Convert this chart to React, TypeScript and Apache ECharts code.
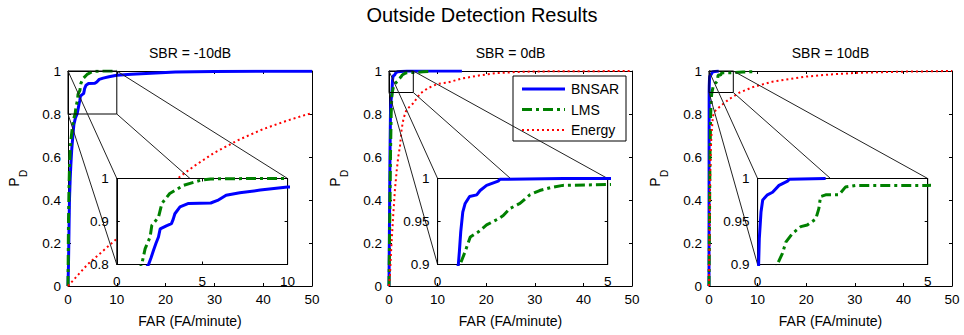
import React, { useEffect, useRef } from "react";
import * as echarts from "echarts";

// ---------- data ----------
const panelTitles = ["SBR = -10dB", "SBR = 0dB", "SBR = 10dB"];
const seriesNames = ["BNSAR", "LMS", "Energy"];

const bnsarM10 = [[0,0],[0.1,0.1],[0.2,0.25],[0.3,0.4],[0.45,0.5],[0.6,0.57],[0.75,0.63],[1.0,0.7],[1.2,0.75],[1.5,0.78],[1.86,0.8],[2.0,0.815],[2.15,0.833],[2.3,0.85],[2.44,0.864],[2.54,0.883],[2.9,0.89],[3.2,0.895],[3.3,0.905],[3.4,0.918],[3.7,0.934],[4.2,0.942],[5.5,0.943],[5.9,0.949],[6.4,0.961],[7.2,0.967],[8.4,0.973],[10,0.98],[13,0.985],[17,0.99],[22,0.995],[30,0.998],[50,0.999]];
const lmsM10 = [[0,0],[0.05,0.15],[0.1,0.3],[0.2,0.45],[0.3,0.55],[0.45,0.63],[0.6,0.68],[0.9,0.74],[1.2,0.78],[1.46,0.8],[1.66,0.837],[1.95,0.864],[2.05,0.891],[2.44,0.91],[2.64,0.942],[3.1,0.965],[3.9,0.984],[4.9,0.996],[5.5,0.999],[8,1],[10,1]];
const energyM10 = [[0,0],[2,0.05],[4,0.1],[6,0.14],[8,0.18],[10,0.22],[15,0.33],[20,0.45],[23,0.51],[26,0.56],[30,0.62],[35,0.68],[40,0.73],[45,0.77],[50,0.805]];

const bnsar0 = [[0,0],[0.1,0.3],[0.2,0.6],[0.3,0.8],[0.45,0.87],[0.61,0.9],[0.64,0.915],[0.68,0.938],[0.74,0.961],[0.81,0.971],[0.94,0.979],[1.15,0.981],[1.25,0.986],[1.44,0.992],[1.78,0.997],[1.83,0.999],[3.7,1],[15,1]];
const lms0 = [[0,0],[0.15,0.3],[0.3,0.6],[0.45,0.8],[0.55,0.87],[0.66,0.9],[0.81,0.915],[0.96,0.932],[1.2,0.938],[1.44,0.946],[1.78,0.953],[1.93,0.957],[2.12,0.965],[2.42,0.971],[2.71,0.981],[3.0,0.986],[3.39,0.99],[3.68,0.992],[5,0.993],[7,0.996],[8.5,0.998]];
const energy0 = [[0,0],[0.2,0.05],[0.4,0.15],[0.55,0.21],[0.9,0.34],[1.23,0.45],[1.6,0.54],[1.9,0.6],[2.26,0.65],[2.6,0.73],[3.0,0.78],[3.6,0.82],[5,0.85],[6.4,0.895],[8,0.92],[10,0.94],[12,0.946],[15,0.965],[18.7,0.98],[22,0.99],[26,0.995],[30,0.998],[40,0.999],[50,1]];

const bnsar10 = [[0,0],[0.01,0.3],[0.02,0.6],[0.03,0.9],[0.05,0.93],[0.1,0.961],[0.15,0.975],[0.29,0.981],[0.44,0.984],[0.63,0.992],[0.88,0.997],[0.93,0.999],[2.0,1]];
const lms10 = [[0,0],[0.1,0.3],[0.2,0.6],[0.35,0.8],[0.5,0.88],[0.58,0.9],[0.73,0.913],[0.83,0.926],[1.02,0.936],[1.27,0.944],[1.46,0.946],[1.71,0.953],[1.8,0.965],[1.85,0.979],[2.0,0.981],[2.39,0.981],[2.58,0.99],[2.88,0.992],[5,0.992],[7,0.995],[9,0.997]];
const energy10 = [[0,0],[0.1,0.2],[0.2,0.45],[0.35,0.62],[0.5,0.7],[0.8,0.79],[1.3,0.815],[2.2,0.834],[4.2,0.87],[6.3,0.9],[9,0.925],[13,0.95],[20,0.974],[25,0.984],[31,0.992],[40,0.997],[50,1]];

const panelData = [
  [bnsarM10, lmsM10, energyM10],
  [bnsar0, lms0, energy0],
  [bnsar10, lms10, energy10],
];

// axis ranges
const mainXRange = [0, 50];
const mainXInterval = 10;
const mainYRange = [0, 1];
const mainYInterval = 0.2;
const zoomXRanges = [[0, 10], [0, 5], [0, 5]];
const zoomYRanges = [[0.8, 1], [0.9, 1], [0.9, 1]];
const insetXIntervals = [5, 5, 5];
const insetYIntervals = [0.1, 0.05, 0.05];
// where the inset sits, in the main axes' data coordinates
const insetXSpan = [10, 45];
const insetYSpan = [0.1, 0.5];

// ---------- layout / style ----------
const FONT = "'Liberation Sans', Arial, Helvetica, sans-serif";
const mainRects = [
  { left: 68, top: 71, width: 244, height: 215 },
  { left: 389, top: 71, width: 243, height: 215 },
  { left: 709, top: 71, width: 243, height: 215 },
];
const colors = ["#0000ff", "#008000", "#ff0000"];
const widths = [3, 3, 2];
const dashes: any[] = ["solid", [10, 4, 3, 4], [2, 3]];
const legendBox = { x: 513, y: 76, width: 113, height: 65 };

const fmt = (v: number) => String(+v.toFixed(2));

export default function App() {
  const ref = useRef<HTMLDivElement>(null);
  useEffect(() => {
    if (!ref.current) return;
    const chart = echarts.init(ref.current, undefined, { renderer: "svg" });

    const grids: any[] = [];
    const xAxes: any[] = [];
    const yAxes: any[] = [];
    const series: any[] = [];
    const graphics: any[] = [];

    const mkAxis = (g: number, pos: string, min: number, max: number, interval: number, showLabel: boolean, z: number, margin: number) => ({
      type: "value",
      gridIndex: g,
      position: pos,
      min,
      max,
      interval,
      z,
      axisLine: { show: true, onZero: false, lineStyle: { color: "#000", width: 1 } },
      axisTick: { show: true, inside: true, length: 3, lineStyle: { color: "#000", width: 1 } },
      axisLabel: {
        show: showLabel,
        color: "#000",
        fontSize: 13.5,
        fontFamily: FONT,
        margin,
        showMinLabel: true,
        showMaxLabel: true,
        formatter: fmt,
      },
      splitLine: { show: false },
    });

    mainRects.forEach((r, p) => {
      const gMain = 2 * p;
      const gIn = 2 * p + 1;
      grids.push({ ...r, containLabel: false });
      const fx = (v: number) => (v - mainXRange[0]) / (mainXRange[1] - mainXRange[0]);
      const fy = (v: number) => (v - mainYRange[0]) / (mainYRange[1] - mainYRange[0]);
      const inRect = {
        left: r.left + fx(insetXSpan[0]) * r.width,
        width: (fx(insetXSpan[1]) - fx(insetXSpan[0])) * r.width,
        top: r.top + (1 - fy(insetYSpan[1])) * r.height,
        height: (fy(insetYSpan[1]) - fy(insetYSpan[0])) * r.height,
      };
      grids.push({ ...inRect, show: true, backgroundColor: "#fff", borderColor: "#000", borderWidth: 1, z: 10 });

      // main axes
      xAxes.push(mkAxis(gMain, "bottom", mainXRange[0], mainXRange[1], mainXInterval, true, 1, 6));
      xAxes.push(mkAxis(gMain, "top", mainXRange[0], mainXRange[1], mainXInterval, false, 1, 6));
      yAxes.push(mkAxis(gMain, "left", mainYRange[0], mainYRange[1], mainYInterval, true, 1, 7));
      yAxes.push(mkAxis(gMain, "right", mainYRange[0], mainYRange[1], mainYInterval, false, 1, 7));
      // inset axes
      const zx = zoomXRanges[p];
      const zy = zoomYRanges[p];
      xAxes.push(mkAxis(gIn, "bottom", zx[0], zx[1], insetXIntervals[p], true, 11, 10));
      xAxes.push(mkAxis(gIn, "top", zx[0], zx[1], insetXIntervals[p], false, 11, 10));
      yAxes.push(mkAxis(gIn, "left", zy[0], zy[1], insetYIntervals[p], true, 11, 8));
      yAxes.push(mkAxis(gIn, "right", zy[0], zy[1], insetYIntervals[p], false, 11, 8));

      const xMainIdx = 2 * gMain;
      const xInIdx = 2 * gIn;

      panelData[p].forEach((data, s) => {
        const base = {
          type: "line",
          name: seriesNames[s],
          data,
          showSymbol: false,
          symbol: "none",
          silent: true,
          clip: true,
          lineStyle: { color: colors[s], width: widths[s], type: dashes[s], cap: "butt" },
          itemStyle: { color: colors[s] },
        };
        series.push({ ...base, xAxisIndex: xMainIdx, yAxisIndex: xMainIdx, z: 2 });
        series.push({ ...base, xAxisIndex: xInIdx, yAxisIndex: xInIdx, z: 12 });
      });

      // zoom rectangle and connector lines (in main data coordinates)
      const helper = (name: string, data: number[][], color: string) => ({
        type: "line",
        name,
        data,
        showSymbol: false,
        symbol: "none",
        silent: true,
        clip: false,
        xAxisIndex: xMainIdx,
        yAxisIndex: xMainIdx,
        lineStyle: { color, width: 1 },
        z: 3,
      });
      series.push(
        helper("zoomRect" + p, [[zx[0], zy[0]], [zx[1], zy[0]], [zx[1], zy[1]], [zx[0], zy[1]], [zx[0], zy[0]]], "#000")
      );
      series.push(helper("c1_" + p, [[zx[0], zy[1]], [insetXSpan[0], insetYSpan[1]]], "#222"));
      series.push(helper("c2_" + p, [[zx[0], zy[0]], [insetXSpan[0], insetYSpan[0]]], "#222"));
      series.push(helper("c3_" + p, [[zx[1], zy[1]], [insetXSpan[1], insetYSpan[1]]], "#222"));
      series.push(helper("c4_" + p, [[zx[1], zy[0]], [insetXSpan[1], insetYSpan[0]]], "#222"));

      const cx = r.left + r.width / 2;
      graphics.push({
        type: "text",
        x: cx,
        y: 52.5,
        style: { text: panelTitles[p], fill: "#000", font: `14px ${FONT}`, align: "center", verticalAlign: "middle" },
      });
      graphics.push({
        type: "text",
        x: cx,
        y: 321,
        style: { text: "FAR (FA/minute)", fill: "#000", font: `14px ${FONT}`, align: "center", verticalAlign: "middle" },
      });
      const px = r.left - 54.5;
      graphics.push({
        type: "text",
        x: px,
        y: 182,
        rotation: Math.PI / 2,
        style: { text: "P", fill: "#000", font: `14px ${FONT}`, align: "center", verticalAlign: "middle" },
      });
      graphics.push({
        type: "text",
        x: px + 9.5,
        y: 173.5,
        rotation: Math.PI / 2,
        style: { text: "D", fill: "#000", font: `10px ${FONT}`, align: "center", verticalAlign: "middle" },
      });
    });

    graphics.push({
      type: "text",
      x: 482,
      y: 15,
      style: { text: "Outside Detection Results", fill: "#000", font: `20px ${FONT}`, align: "center", verticalAlign: "middle" },
    });

    // legend (drawn as graphics so the sample lines carry the exact dash styles)
    const legendChildren: any[] = [
      {
        type: "rect",
        shape: { x: 0, y: 0, width: legendBox.width, height: legendBox.height },
        style: { fill: "#fff", stroke: "#000", lineWidth: 1 },
      },
    ];
    seriesNames.forEach((nm, s) => {
      const yy = 13 + s * 20.5;
      legendChildren.push({
        type: "line",
        shape: { x1: 9, y1: yy, x2: 52, y2: yy },
        style: {
          stroke: colors[s],
          lineWidth: widths[s],
          lineDash: dashes[s] === "solid" ? null : dashes[s],
          lineCap: "butt",
        },
      });
      legendChildren.push({
        type: "text",
        x: 58,
        y: yy,
        style: { text: nm, fill: "#000", font: `14px ${FONT}`, align: "left", verticalAlign: "middle" },
      });
    });
    graphics.push({
      type: "group",
      x: legendBox.x,
      y: legendBox.y,
      z: 20,
      children: legendChildren,
    });

    chart.setOption({
      animation: false,
      backgroundColor: "#fff",
      grid: grids,
      xAxis: xAxes,
      yAxis: yAxes,
      series,
      graphic: graphics,
    });
    return () => chart.dispose();
  }, []);
  return (
    <div
      ref={ref}
      style={{ position: "fixed", left: 0, top: 0, width: 964, height: 335, background: "#fff" }}
    />
  );
}
